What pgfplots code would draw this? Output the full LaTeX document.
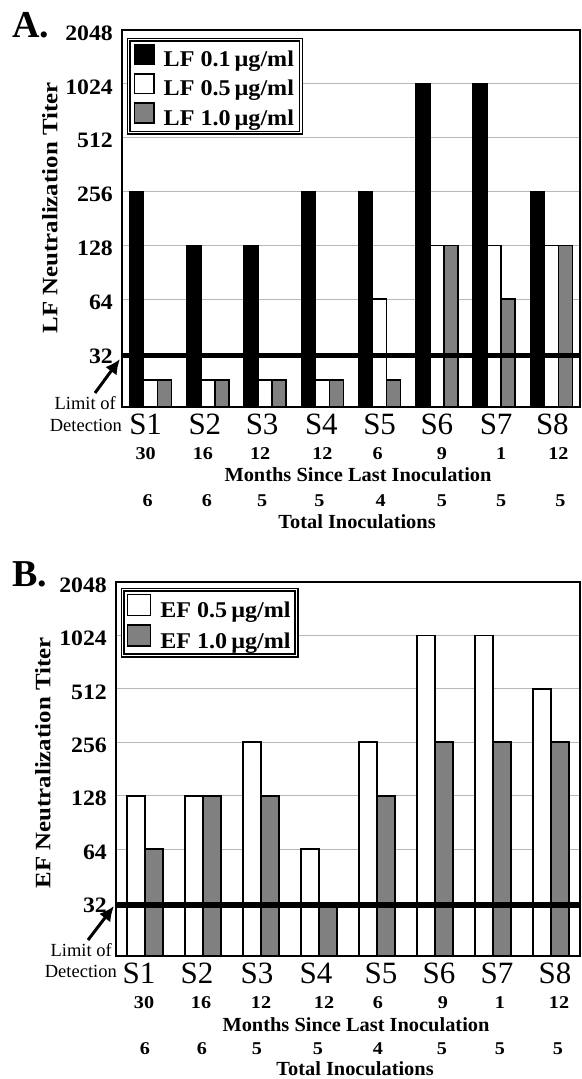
\documentclass[border=0pt]{standalone}
\usepackage{fontspec}
\setmainfont{Liberation Serif}
\usepackage{graphicx}
\usepackage{pgfplots}
\pgfplotsset{compat=1.18}
\usetikzlibrary{arrows.meta}

\definecolor{barGray}{gray}{0.5}
\definecolor{gridGray}{gray}{0.72}

\newcommand\fs[1]{\fontsize{#1bp}{#1bp}\selectfont}
\newcommand\bsx[2][1.1]{\scalebox{#1}[1]{\bfseries #2}}
\newcommand\mn[1]{\bsx[1.12]{#1}}
\newcommand\ytl[1]{\bsx[1.08]{#1}}

\tikzset{
  slab/.style={font=\fs{31}, inner sep=0pt},
  mnum/.style={font=\fs{18}, inner sep=0pt},
}

\begin{document}
\begin{tikzpicture}
\path[use as bounding box] (0,0) rectangle (582bp,1079bp);

% ---------------- panel A ----------------
\begin{axis}[
  ymode=log, log basis y=2,
  scale only axis,
  at={(122bp,672bp)}, anchor=south west,
  width=458bp, height=377bp,
  ymin=16, ymax=2048,
  log origin y=infty,
  xmin=-0.5, xmax=7.5,
  xtick=\empty,
  ytick={32,64,128,256,512,1024,2048},
  yticklabels={\ytl{32},\ytl{64},\ytl{128},\ytl{256},\ytl{512},\ytl{1024},\ytl{2048}},
  yticklabel style={font=\fs{22}, inner sep=0pt, yshift=-3bp, xshift=-9bp},
  major tick length=0pt,
  ymajorgrids, grid style={gridGray, line width=0.9bp},
  axis line style={line width=2.2bp},
  ybar, bar width=0.245,
  clip=false,
  legend cell align=left,
  legend style={font=\fs{22.5}, fill=white, draw=black, double=white,
    double distance=1.3bp, line width=1.4bp, inner xsep=5bp, inner ysep=4bp,
    at={(0.013,0.976)}, anchor=north west, row sep=3bp,
    /tikz/every odd column/.append style={column sep=7bp}},
]
\addplot[fill=black, draw=black, line width=1.6bp, bar shift=-0.245,
  legend image code/.code={\draw[fill=black, draw=black, line width=1.6bp] (0bp,-4.5bp) rectangle (19.5bp,15bp);}]
  coordinates {(0,256) (1,128) (2,128) (3,256) (4,256) (5,1024) (6,1024) (7,256)};
\addplot[fill=white, draw=black, line width=1.6bp, bar shift=0,
  legend image code/.code={\draw[fill=white, draw=black, line width=1.6bp] (0bp,-4.5bp) rectangle (19.5bp,15bp);}]
  coordinates {(0,22.6) (1,22.6) (2,22.6) (3,22.6) (4,64) (5,128) (6,128) (7,128)};
\addplot[fill=barGray, draw=black, line width=1.6bp, bar shift=0.245,
  legend image code/.code={\draw[fill=barGray, draw=black, line width=1.6bp] (0bp,-4.5bp) rectangle (19.5bp,15bp);}]
  coordinates {(0,22.6) (1,22.6) (2,22.6) (3,22.6) (4,22.6) (5,128) (6,64) (7,128)};
\legend{\bsx[1.07]{LF 0.1\,µg/ml}, \bsx[1.07]{LF 0.5\,µg/ml}, \bsx[1.07]{LF 1.0\,µg/ml}}

% limit of detection
\draw[line width=5.5bp] (axis cs:-0.5,31) -- (axis cs:7.5,31);

% subject labels
\node[slab] at ([xshift=-5bp,yshift=-17bp]axis cs:0,16) {S1};
\node[slab] at ([xshift=-3bp,yshift=-17bp]axis cs:1,16) {S2};
\node[slab] at ([xshift=-3bp,yshift=-17bp]axis cs:2,16) {S3};
\node[slab] at ([xshift=-1bp,yshift=-17bp]axis cs:3,16) {S4};
\node[slab] at ([xshift=0bp,yshift=-17bp]axis cs:4,16) {S5};
\node[slab] at ([xshift=0bp,yshift=-17bp]axis cs:5,16) {S6};
\node[slab] at ([xshift=2bp,yshift=-17bp]axis cs:6,16) {S7};
\node[slab] at ([xshift=1bp,yshift=-17bp]axis cs:7,16) {S8};

% months since last inoculation
\node[mnum] at ([xshift=-5bp,yshift=-47bp]axis cs:0,16) {\mn{30}};
\node[mnum] at ([xshift=-5bp,yshift=-47bp]axis cs:1,16) {\mn{16}};
\node[mnum] at ([xshift=-5bp,yshift=-47bp]axis cs:2,16) {\mn{12}};
\node[mnum] at ([xshift=0bp,yshift=-47bp]axis cs:3,16) {\mn{12}};
\node[mnum] at ([xshift=-2bp,yshift=-47bp]axis cs:4,16) {\mn{6}};
\node[mnum] at ([xshift=5bp,yshift=-47bp]axis cs:5,16) {\mn{9}};
\node[mnum] at ([xshift=7bp,yshift=-47bp]axis cs:6,16) {\mn{1}};
\node[mnum] at ([xshift=7bp,yshift=-47bp]axis cs:7,16) {\mn{12}};

% total inoculations
\node[mnum] at ([xshift=-3bp,yshift=-94bp]axis cs:0,16) {\mn{6}};
\node[mnum] at ([xshift=-1bp,yshift=-94bp]axis cs:1,16) {\mn{6}};
\node[mnum] at ([xshift=-3bp,yshift=-94bp]axis cs:2,16) {\mn{5}};
\node[mnum] at ([xshift=-3bp,yshift=-94bp]axis cs:3,16) {\mn{5}};
\node[mnum] at ([xshift=1bp,yshift=-94bp]axis cs:4,16) {\mn{4}};
\node[mnum] at ([xshift=5bp,yshift=-94bp]axis cs:5,16) {\mn{5}};
\node[mnum] at ([xshift=7bp,yshift=-94bp]axis cs:6,16) {\mn{5}};
\node[mnum] at ([xshift=9bp,yshift=-94bp]axis cs:7,16) {\mn{5}};
\end{axis}

% ---------------- panel B ----------------
\begin{axis}[
  ymode=log, log basis y=2,
  scale only axis,
  at={(116bp,123bp)}, anchor=south west,
  width=464bp, height=374bp,
  ymin=16, ymax=2048,
  log origin y=infty,
  xmin=-0.5, xmax=7.5,
  xtick=\empty,
  ytick={32,64,128,256,512,1024,2048},
  yticklabels={\ytl{32},\ytl{64},\ytl{128},\ytl{256},\ytl{512},\ytl{1024},\ytl{2048}},
  yticklabel style={font=\fs{22}, inner sep=0pt, yshift=-3bp, xshift=-9bp},
  major tick length=0pt,
  ymajorgrids, grid style={gridGray, line width=0.9bp},
  axis line style={line width=2.4bp},
  ybar, bar width=0.31,
  clip=false,
  legend cell align=left,
  legend style={font=\fs{22.5}, fill=white, draw=black, double=white,
    double distance=1.3bp, line width=1.5bp, inner xsep=4bp, inner ysep=4bp,
    at={(0.013,0.981)}, anchor=north west, row sep=3bp,
    /tikz/every odd column/.append style={column sep=7bp}},
]
\addplot[fill=white, draw=black, line width=1.6bp, bar shift=-0.155,
  legend image code/.code={\draw[fill=white, draw=black, line width=1.6bp] (0bp,-5bp) rectangle (23bp,16bp);}]
  coordinates {(0,128) (1,128) (2,256) (3,64) (4,256) (5,1024) (6,1024) (7,512)};
\addplot[fill=barGray, draw=black, line width=1.6bp, bar shift=0.155,
  legend image code/.code={\draw[fill=barGray, draw=black, line width=1.6bp] (0bp,-5bp) rectangle (23bp,16bp);}]
  coordinates {(0,64) (1,128) (2,128) (3,32) (4,128) (5,256) (6,256) (7,256)};
\legend{\bsx[1.07]{EF 0.5\,µg/ml}, \bsx[1.07]{EF 1.0\,µg/ml}}

\draw[line width=5.5bp] (axis cs:-0.5,31) -- (axis cs:7.5,31);

\node[slab] at ([xshift=-6bp,yshift=-17bp]axis cs:0,16) {S1};
\node[slab] at ([xshift=-6bp,yshift=-17bp]axis cs:1,16) {S2};
\node[slab] at ([xshift=-4bp,yshift=-17bp]axis cs:2,16) {S3};
\node[slab] at ([xshift=-3bp,yshift=-17bp]axis cs:3,16) {S4};
\node[slab] at ([xshift=4bp,yshift=-17bp]axis cs:4,16) {S5};
\node[slab] at ([xshift=4bp,yshift=-17bp]axis cs:5,16) {S6};
\node[slab] at ([xshift=4bp,yshift=-17bp]axis cs:6,16) {S7};
\node[slab] at ([xshift=4bp,yshift=-17bp]axis cs:7,16) {S8};

\node[mnum] at ([xshift=-1bp,yshift=-47bp]axis cs:0,16) {\mn{30}};
\node[mnum] at ([xshift=-2bp,yshift=-47bp]axis cs:1,16) {\mn{16}};
\node[mnum] at ([xshift=0bp,yshift=-47bp]axis cs:2,16) {\mn{12}};
\node[mnum] at ([xshift=5bp,yshift=-47bp]axis cs:3,16) {\mn{12}};
\node[mnum] at ([xshift=1bp,yshift=-47bp]axis cs:4,16) {\mn{6}};
\node[mnum] at ([xshift=8bp,yshift=-47bp]axis cs:5,16) {\mn{9}};
\node[mnum] at ([xshift=7bp,yshift=-47bp]axis cs:6,16) {\mn{1}};
\node[mnum] at ([xshift=8bp,yshift=-47bp]axis cs:7,16) {\mn{12}};

\node[mnum] at ([xshift=0bp,yshift=-93bp]axis cs:0,16) {\mn{6}};
\node[mnum] at ([xshift=-1bp,yshift=-93bp]axis cs:1,16) {\mn{6}};
\node[mnum] at ([xshift=-4bp,yshift=-93bp]axis cs:2,16) {\mn{5}};
\node[mnum] at ([xshift=-1bp,yshift=-93bp]axis cs:3,16) {\mn{5}};
\node[mnum] at ([xshift=1bp,yshift=-93bp]axis cs:4,16) {\mn{4}};
\node[mnum] at ([xshift=7bp,yshift=-93bp]axis cs:5,16) {\mn{5}};
\node[mnum] at ([xshift=7bp,yshift=-93bp]axis cs:6,16) {\mn{5}};
\node[mnum] at ([xshift=7bp,yshift=-93bp]axis cs:7,16) {\mn{5}};
\end{axis}

% ---------------- panel letters, axis titles, notes ----------------
\node[anchor=base west, font=\fs{38}\bfseries, inner sep=0pt] at (12bp,1041bp) {A.};
\node[anchor=base west, font=\fs{38}\bfseries, inner sep=0pt] at (12bp,492bp) {B.};

\node[rotate=90, font=\fs{22}, inner sep=0pt] at (50bp,871bp) {\bsx[1.13]{LF Neutralization Titer}};
\node[rotate=90, font=\fs{22}, inner sep=0pt] at (43bp,316bp) {\bsx[1.13]{EF Neutralization Titer}};

\node[font=\fs{20}, inner sep=0pt] at (358bp,604bp) {\bsx[1.02]{Months Since Last Inoculation}};
\node[font=\fs{20}, inner sep=0pt] at (357bp,557bp) {\bsx[1.02]{Total Inoculations}};
\node[font=\fs{20}, inner sep=0pt] at (356bp,54bp) {\bsx[1.02]{Months Since Last Inoculation}};
\node[font=\fs{20}, inner sep=0pt] at (355bp,10bp) {\bsx[1.02]{Total Inoculations}};

\node[anchor=base east, font=\fs{18.5}, inner sep=0pt] at (116bp,669bp) {Limit of};
\node[anchor=base east, font=\fs{18.5}, inner sep=0pt] at (122bp,647bp) {Detection};
\draw[line width=3bp, -{Latex[length=15bp, width=14bp]}] (95bp,686bp) -- (120bp,720bp);

\node[anchor=base east, font=\fs{18.5}, inner sep=0pt] at (112bp,122bp) {Limit of};
\node[anchor=base east, font=\fs{18.5}, inner sep=0pt] at (117bp,101bp) {Detection};
\draw[line width=3bp, -{Latex[length=15bp, width=14bp]}] (88bp,139bp) -- (114bp,173bp);
\end{tikzpicture}
\end{document}
